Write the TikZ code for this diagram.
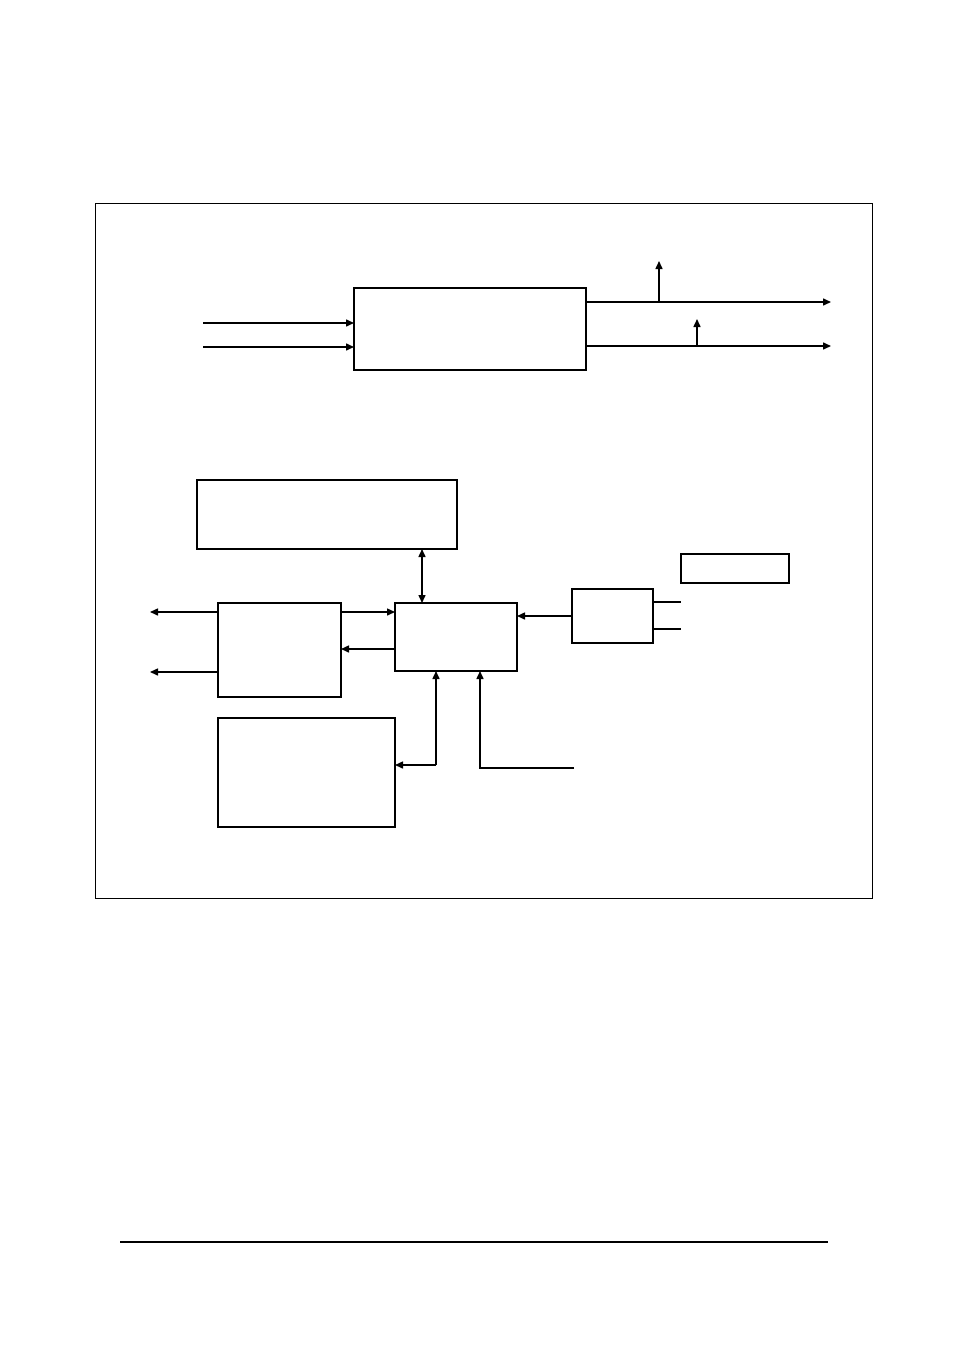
\documentclass[tikz,border=0pt]{standalone}
\usetikzlibrary{arrows.meta}
\begin{document}
\begin{tikzpicture}[x=1pt,y=-1pt,
  thickbox/.style={draw,line width=2.2pt,inner sep=0,outer sep=0,anchor=north west},
  thinbox/.style={draw,line width=1.1pt,inner sep=0,outer sep=0,anchor=north west},
  frame/.style={draw,line width=1pt,inner sep=0,outer sep=0,anchor=north west},
  wire/.style={line width=1.5pt},
  arr/.style={line width=1.5pt,-{Triangle[length=8pt,width=7pt]}},
  darr/.style={line width=1.5pt,{Triangle[length=8pt,width=7pt]}-{Triangle[length=8pt,width=7pt]}}]
\useasboundingbox[fill=white] (0,0) rectangle (954,1351);
% outer frame
\node[frame,minimum width=777,minimum height=695] (frm) at (95,203) {};
% bottom rule
\coordinate (r1) at (120,1242);
\coordinate (r2) at (828,1242);
\draw[line width=1.6pt] (r1) -- (r2);
% top block
\node[thickbox,line width=2pt,minimum width=232,minimum height=82] (top) at (354,288) {};
\coordinate (i1) at (203,323);
\coordinate (i2) at (203,347);
\draw[arr] (i1) -- (top.west |- i1);
\draw[arr] (i2) -- (top.west |- i2);
\coordinate (o1) at (831,302);
\coordinate (o2) at (831,346);
\draw[arr] (top.east |- o1) -- (o1);
\draw[arr] (top.east |- o2) -- (o2);
\coordinate (u1b) at (659,302);
\coordinate (u1t) at (659,261);
\coordinate (u2b) at (697,346);
\coordinate (u2t) at (697,319);
\draw[arr] (u1b) -- (u1t);
\draw[arr] (u2b) -- (u2t);
% lower blocks
\node[thickbox,line width=2.6pt,minimum width=260,minimum height=69] (A) at (197,480) {};
\node[thickbox,minimum width=123,minimum height=94] (B) at (218,603) {};
\node[thickbox,minimum width=122,minimum height=68] (C) at (395,603) {};
\node[thinbox,minimum width=81,minimum height=54] (D) at (572,589) {};
\node[thinbox,minimum width=108,minimum height=29] (E) at (681,554) {};
\node[thickbox,minimum width=177,minimum height=109] (F) at (218,718) {};
% A <-> C
\coordinate (ac) at (422,549);
\draw[darr] (ac) -- (ac |- C.north);
% B -> C, C -> B
\coordinate (bc) at (341,612);
\draw[arr] (bc) -- (C.west |- bc);
\coordinate (cb) at (341,649);
\draw[arr] (C.west |- cb) -- (cb);
% outputs of B
\coordinate (l1) at (150,612);
\coordinate (l2) at (150,672);
\draw[arr] (B.west |- l1) -- (l1);
\draw[arr] (B.west |- l2) -- (l2);
% D -> C
\coordinate (dc) at (572,616);
\draw[arr] (dc) -- (C.east |- dc);
% D outputs to E side
\coordinate (d1) at (681,602);
\coordinate (d2) at (681,629);
\draw[wire,line width=2pt] (D.east |- d1) -- (d1);
\draw[wire,line width=2pt] (D.east |- d2) -- (d2);
% junction to F and C
\coordinate (j) at (436,765);
\draw[arr] (j) -- (F.east |- j);
\draw[arr] (j) -- (j |- C.south);
% line from right up to C
\coordinate (s) at (574,768);
\coordinate (k) at (480,768);
\draw[arr] (s) -- (k) -- (k |- C.south);
\end{tikzpicture}
\end{document}
